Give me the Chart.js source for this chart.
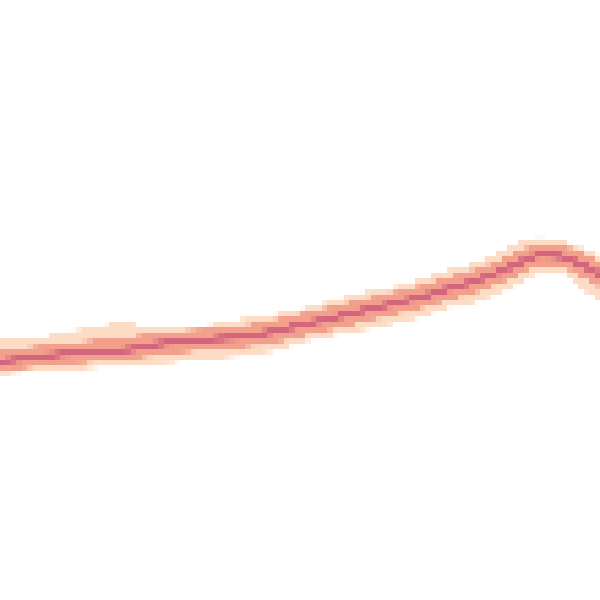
<!DOCTYPE html>
<html>
<head>
<meta charset="utf-8">
<script src="https://cdn.jsdelivr.net/npm/chart.js@4/dist/chart.umd.min.js"></script>
<style>
	html, body { margin: 0; padding: 0; background: #fff; }
</style>
</head>
<body>
<canvas id="band" width="600" height="600"></canvas>
<script>
// time axis (0-100)
var xs = [0, 4.2, 8.3, 12.5, 16.7, 20.8, 25, 29.2, 33.3, 37.5, 41.7, 45.8, 50, 54.2, 58.3, 62.5, 66.7, 70.8, 75, 79.2, 83.3, 86.7, 90, 93.3, 96.7, 100];
// densest track
var center = [39.7, 40.3, 40.8, 41.2, 41.5, 41.7, 42.5, 43.0, 43.3, 43.7, 44.0, 44.8, 45.8, 46.7, 47.7, 48.7, 49.7, 50.7, 52.0, 53.2, 54.7, 56.3, 57.5, 57.3, 56.0, 54.2];
// outer (sparse) envelope
var outerTop = [43.0, 43.0, 43.7, 44.5, 45.3, 45.8, 45.0, 45.0, 45.3, 45.8, 46.7, 47.2, 48.0, 49.2, 50.3, 51.3, 52.0, 53.3, 54.7, 55.8, 57.5, 59.2, 60.0, 59.5, 58.3, 57.0];
var outerBottom = [38.0, 38.3, 38.7, 38.8, 39.2, 39.7, 39.7, 40.0, 40.5, 40.8, 41.3, 42.0, 43.3, 44.2, 45.0, 45.7, 46.7, 47.7, 49.2, 50.0, 51.7, 53.3, 55.0, 55.0, 52.5, 50.3];
// inner (mid density) envelope
var innerTop = [41.3, 41.7, 42.2, 42.5, 43.0, 43.3, 44.0, 44.3, 44.7, 45.0, 45.5, 46.3, 47.3, 48.2, 49.2, 50.2, 51.2, 52.2, 53.5, 54.7, 56.2, 57.8, 58.8, 58.7, 57.5, 55.8];
var innerBottom = [38.3, 39.0, 39.5, 39.8, 40.2, 40.5, 41.0, 41.5, 42.0, 42.3, 42.7, 43.3, 44.3, 45.2, 46.2, 47.2, 48.2, 49.2, 50.5, 51.7, 53.2, 54.8, 56.2, 56.0, 54.5, 52.5];

var CELLS = 110; // heatmap grid size

function pts(ys) {
	return xs.map(function(x, i){ return {x: x, y: ys[i]}; });
}

function layer(ys, color, fill, order, width) {
	return {
		data: pts(ys),
		borderColor: color,
		backgroundColor: color,
		borderWidth: width || 0,
		fill: fill,
		order: order,
		pointRadius: 0,
		tension: 0.4,
		cubicInterpolationMode: 'monotone'
	};
}

// snap the drawn chart onto a coarse grid, like binned density cells
var pixelate = {
	id: 'pixelate',
	afterDraw: function(chart) {
		var c = chart.canvas, g = chart.ctx;
		var tmp = document.createElement('canvas');
		tmp.width = CELLS; tmp.height = CELLS;
		var t = tmp.getContext('2d');
		t.imageSmoothingEnabled = true;
		t.drawImage(c, 0, 0, CELLS, CELLS);
		g.save();
		g.setTransform(1, 0, 0, 1, 0, 0);
		g.imageSmoothingEnabled = false;
		g.clearRect(0, 0, c.width, c.height);
		g.drawImage(tmp, 0, 0, c.width, c.height);
		g.restore();
	}
};

var ctx = document.getElementById('band');
var chart = new Chart(ctx, {
	type: 'line',
	data: {
		datasets: [
			layer(outerTop, '#fddcc5', '+1', 6, 5),
			layer(outerBottom, '#fddcc5', false, 6, 5),
			layer(innerTop, '#f2a08c', '+1', 4, 5),
			layer(innerBottom, '#f2a08c', false, 4, 5),
			layer(center, '#d3657f', false, 1, 6)
		]
	},
	options: {
		responsive: false,
		animation: false,
		events: [],
		layout: { padding: 0 },
		plugins: {
			legend: { display: false },
			tooltip: { enabled: false }
		},
		scales: {
			x: { type: 'linear', min: 0, max: 100, display: false },
			y: { type: 'linear', min: 0, max: 100, display: false }
		}
	},
	plugins: [pixelate]
});
</script>
</body>
</html>
